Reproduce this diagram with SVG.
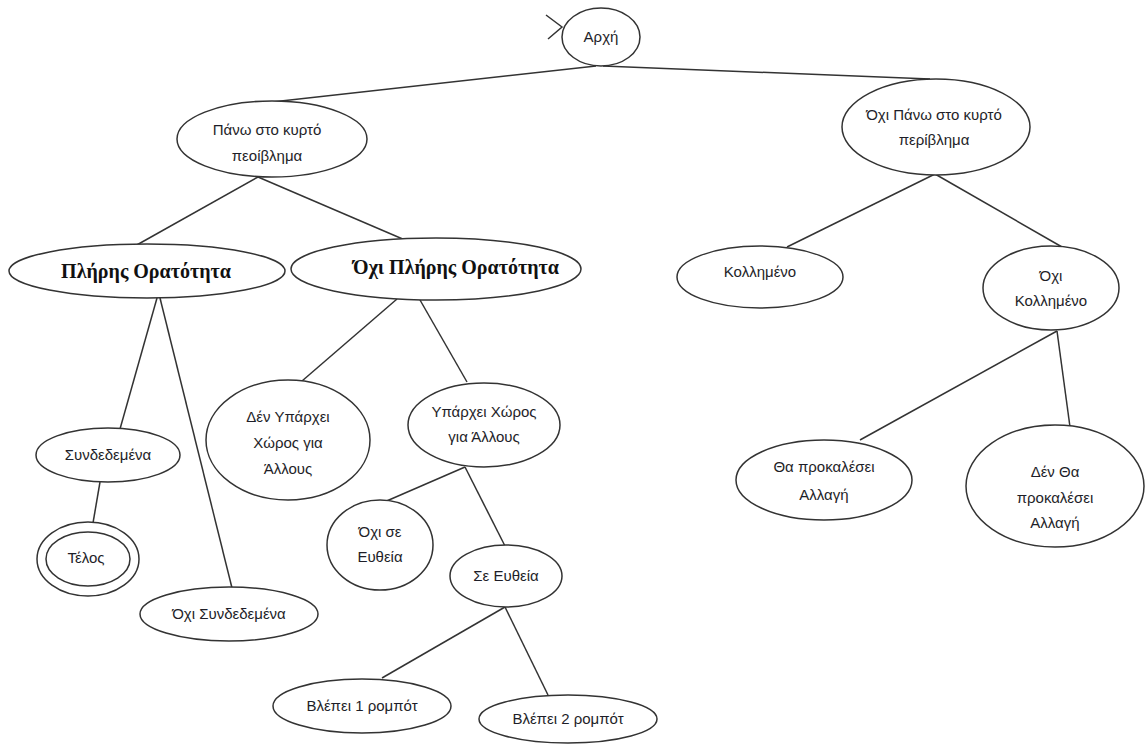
<svg xmlns="http://www.w3.org/2000/svg" width="1147" height="744" viewBox="0 0 1147 744">
<style>
.n{fill:#fff;stroke:#333;stroke-width:1.5}
.t{font-family:"Liberation Sans","DejaVu Sans",sans-serif;font-size:15px;fill:#1e1e28;text-anchor:middle}
.b{font-family:"Liberation Serif","DejaVu Serif",serif;font-size:20px;font-weight:bold;fill:#111;text-anchor:middle}
.c line,.c polyline{stroke:#333;stroke-width:1.5;fill:none}
</style>
<rect width="1147" height="744" fill="#fff"/>
<g class="c" id="connectors">
<polyline points="546,15 562,27 548,39"/>
<line x1="596" y1="66" x2="272" y2="102"/>
<line x1="603" y1="66" x2="930" y2="79"/>
<line x1="258" y1="177" x2="135" y2="246"/>
<line x1="258" y1="177" x2="405" y2="240"/>
<line x1="157" y1="298" x2="120" y2="429"/>
<line x1="160" y1="298" x2="232" y2="588"/>
<line x1="100" y1="482" x2="93" y2="523"/>
<line x1="397" y1="299" x2="302" y2="381"/>
<line x1="420" y1="300" x2="467" y2="382"/>
<line x1="465" y1="467" x2="382" y2="503"/>
<line x1="465" y1="467" x2="505" y2="546"/>
<line x1="505" y1="607" x2="382" y2="678"/>
<line x1="505" y1="607" x2="548" y2="695"/>
<line x1="935" y1="174" x2="787" y2="247"/>
<line x1="935" y1="174" x2="1062" y2="247"/>
<line x1="1057" y1="331" x2="860" y2="440"/>
<line x1="1057" y1="331" x2="1070" y2="427"/>
</g>
<g id="n-arxi"><ellipse class="n" cx="601" cy="37" rx="39" ry="29"/><text class="t" x="601" y="42">Αρχή</text></g>
<g id="n-pano"><ellipse class="n" cx="272" cy="139" rx="95" ry="38"/><text class="t" x="267" y="135">Πάνω στο κυρτό</text><text class="t" x="267" y="161">πεοίβλημα</text></g>
<g id="n-oxipano"><ellipse class="n" cx="936" cy="127" rx="94" ry="48"/><text class="t" x="934" y="120">Όχι Πάνω στο κυρτό</text><text class="t" x="934" y="145">περίβλημα</text></g>
<g id="n-pliris"><ellipse class="n" cx="147" cy="271" rx="138" ry="27"/><text class="b" x="146" y="278">Πλήρης Ορατότητα</text></g>
<g id="n-oxipliris"><ellipse class="n" cx="436" cy="269" rx="145" ry="31"/><text class="b" x="456" y="274">Όχι Πλήρης Ορατότητα</text></g>
<g id="n-syndedemena"><ellipse class="n" cx="108" cy="455" rx="72" ry="27"/><text class="t" x="108" y="460">Συνδεδεμένα</text></g>
<g id="n-telos"><ellipse class="n" cx="88" cy="559" rx="51" ry="37"/><ellipse class="n" cx="88" cy="559" rx="42" ry="27"/><text class="t" x="86" y="563">Τέλος</text></g>
<g id="n-oxisyndedemena"><ellipse class="n" cx="229" cy="614" rx="89" ry="27"/><text class="t" x="229" y="619">Όχι Συνδεδεμένα</text></g>
<g id="n-denyparxei"><ellipse class="n" cx="288" cy="440" rx="82" ry="60"/><text class="t" x="288" y="422">Δέν Υπάρχει</text><text class="t" x="288" y="448">Χώρος για</text><text class="t" x="288" y="474">Άλλους</text></g>
<g id="n-yparxei"><ellipse class="n" cx="484" cy="425" rx="76" ry="42"/><text class="t" x="484" y="417">Υπάρχει Χώρος</text><text class="t" x="484" y="442">για Άλλους</text></g>
<g id="n-oxieytheia"><ellipse class="n" cx="380" cy="545" rx="53" ry="45"/><text class="t" x="380" y="537">Όχι σε</text><text class="t" x="380" y="562">Ευθεία</text></g>
<g id="n-eytheia"><ellipse class="n" cx="506" cy="576" rx="56" ry="31"/><text class="t" x="506" y="581">Σε Ευθεία</text></g>
<g id="n-vlepei1"><ellipse class="n" cx="362" cy="706" rx="89" ry="27"/><text class="t" x="362" y="711">Βλέπει 1 ρομπότ</text></g>
<g id="n-vlepei2"><ellipse class="n" cx="568" cy="719" rx="89" ry="24"/><text class="t" x="568" y="724">Βλέπει 2 ρομπότ</text></g>
<g id="n-kollimeno"><ellipse class="n" cx="760" cy="277" rx="83" ry="31"/><text class="t" x="760" y="277">Κολλημένο</text></g>
<g id="n-oxikollimeno"><ellipse class="n" cx="1051" cy="288" rx="68" ry="42"/><text class="t" x="1051" y="281">Όχι</text><text class="t" x="1051" y="306">Κολλημένο</text></g>
<g id="n-tha"><ellipse class="n" cx="824" cy="480" rx="88" ry="40"/><text class="t" x="824" y="472">Θα προκαλέσει</text><text class="t" x="824" y="500">Αλλαγή</text></g>
<g id="n-dentha"><ellipse class="n" cx="1055" cy="486" rx="89" ry="61"/><text class="t" x="1055" y="477">Δέν Θα</text><text class="t" x="1055" y="503">προκαλέσει</text><text class="t" x="1055" y="528">Αλλαγή</text></g>
</svg>
